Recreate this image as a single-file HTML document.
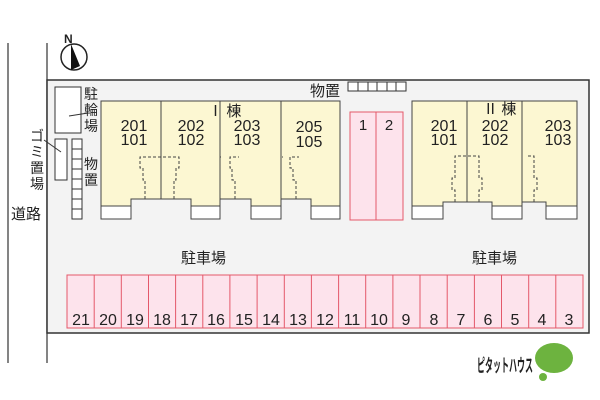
<!DOCTYPE html>
<html><head><meta charset="utf-8"><style>
html,body{margin:0;padding:0;background:#fff;}
svg{display:block;}
text{font-family:"Liberation Sans","Noto Sans CJK JP",sans-serif;fill:#222;}
.j{font-family:"Noto Sans CJK JP",sans-serif;}
</style></head><body>
<svg width="600" height="400" viewBox="0 0 600 400" xmlns="http://www.w3.org/2000/svg">
<line x1="8" y1="43" x2="8" y2="363" stroke="#333" stroke-width="1.2"/>
<line x1="47" y1="43" x2="47" y2="363" stroke="#333" stroke-width="1.2"/>
<rect x="47" y="80" width="542" height="253" fill="#f3f3f3" stroke="#333" stroke-width="1.5"/>
<!-- compass -->
<circle cx="74" cy="57" r="13" fill="#fff" stroke="#222" stroke-width="1.5"/>
<polygon points="71,44 71,70 80,66" fill="#111"/>
<text x="64" y="43" font-size="12" font-weight="bold">N</text>
<!-- bike -->
<rect x="55" y="87" width="26" height="46" fill="#fff" stroke="#333"/>
<line x1="69" y1="116" x2="88" y2="113" stroke="#333"/>
<text class="j" x="84" y="99" font-size="14">駐</text>
<text class="j" x="84" y="115" font-size="14">輪</text>
<text class="j" x="84" y="131" font-size="14">場</text>
<rect x="55" y="139" width="12" height="41" fill="#fff" stroke="#333"/>
<line x1="61" y1="152" x2="44" y2="140" stroke="#333"/>
<text class="j" x="30" y="141" font-size="14">ゴ</text>
<text class="j" x="30" y="157" font-size="14">ミ</text>
<text class="j" x="30" y="173" font-size="14">置</text>
<text class="j" x="30" y="189" font-size="14">場</text>
<g fill="#fff" stroke="#333">
<rect x="72" y="139" width="10" height="10"/><rect x="72" y="149" width="10" height="10"/><rect x="72" y="159" width="10" height="10"/><rect x="72" y="169" width="10" height="10"/><rect x="72" y="179" width="10" height="10"/><rect x="72" y="189" width="10" height="10"/><rect x="72" y="199" width="10" height="10"/><rect x="72" y="209" width="10" height="10"/>
</g>
<text class="j" x="84" y="169" font-size="14">物</text>
<text class="j" x="84" y="185" font-size="14">置</text>
<text class="j" x="11" y="219" font-size="15">道路</text>
<!-- top storage -->
<text class="j" x="310" y="96" font-size="15">物置</text>
<g fill="#fff" stroke="#333"><rect x="348" y="82" width="10" height="9"/><rect x="358" y="82" width="10" height="9"/><rect x="368" y="82" width="9" height="9"/><rect x="377" y="82" width="10" height="9"/><rect x="387" y="82" width="9" height="9"/><rect x="396" y="82" width="10" height="9"/></g>
<!-- Building I -->
<path d="M101,101 H340 V206 H311 V199 H281 V206 H251 V199 H220 V206 H191 V199 H131 V206 H101 Z" fill="#fcf7d2" stroke="#444"/>
<g stroke="#444"><line x1="161" y1="101" x2="161" y2="199"/><line x1="220" y1="101" x2="220" y2="199"/><line x1="281" y1="101" x2="281" y2="199"/></g>
<g fill="#fff" stroke="#444"><rect x="101" y="206" width="30" height="13"/><rect x="191" y="206" width="29" height="13"/><rect x="251" y="206" width="30" height="13"/><rect x="311" y="206" width="29" height="13"/></g>
<g fill="none" stroke="#444" stroke-dasharray="3,2">
<path d="M145,199 V180 H143 V168 H140 V157 H179 V168 H176 V180 H174 V199"/>
<path d="M235,199 V180 H232 V168 H230 V157 H239 M221,157 H220"/>
<path d="M296,199 V180 H293 V168 H290 V157 H299 M283,157 H282"/>
</g>
<g font-size="16" text-anchor="middle">
<text x="134" y="131">201</text><text x="134" y="145">101</text>
<text x="191" y="131">202</text><text x="191" y="145">102</text>
<text x="247" y="131">203</text><text x="247" y="145">103</text>
<text x="309" y="132">205</text><text x="309" y="147">105</text>
</g>
<text class="j" x="208" y="116" font-size="15">Ⅰ 棟</text>
<!-- parking 1 2 -->
<rect x="350" y="112" width="26" height="108" fill="#fde3ec" stroke="#e4586a"/>
<rect x="376" y="112" width="27" height="108" fill="#fde3ec" stroke="#e4586a"/>
<text x="363" y="130" font-size="15" text-anchor="middle">1</text>
<text x="389" y="130" font-size="15" text-anchor="middle">2</text>
<!-- Building II -->
<path d="M412,101 H577 V206 H546 V202 H522 V206 H492 V202 H443 V206 H412 Z" fill="#fcf7d2" stroke="#444"/>
<g stroke="#444"><line x1="467" y1="101" x2="467" y2="202"/><line x1="522" y1="101" x2="522" y2="202"/></g>
<g fill="#fff" stroke="#444"><rect x="412" y="206" width="31" height="13"/><rect x="492" y="206" width="30" height="13"/><rect x="546" y="206" width="31" height="13"/></g>
<g fill="none" stroke="#444" stroke-dasharray="3,2">
<path d="M455,202 V190 H452 V178 H455 V156 H479 V178 H482 V190 H479 V202"/>
<path d="M534,202 V190 H537 V178 H534 V156 H526"/>
</g>
<g font-size="16" text-anchor="middle">
<text x="444" y="131">201</text><text x="444" y="145">101</text>
<text x="495" y="131">202</text><text x="495" y="145">102</text>
<text x="558" y="131">203</text><text x="558" y="145">103</text>
</g>
<text class="j" x="483" y="114" font-size="15">Ⅱ 棟</text>
<text class="j" x="181" y="263" font-size="15">駐車場</text>
<text class="j" x="472" y="263" font-size="15">駐車場</text>
<!-- bottom parking -->
<rect x="67" y="275" width="516" height="53" fill="#fde3ec" stroke="#e4586a"/>
<g stroke="#e4586a">
<line x1="94.2" y1="275" x2="94.2" y2="328"/><line x1="121.3" y1="275" x2="121.3" y2="328"/><line x1="148.5" y1="275" x2="148.5" y2="328"/><line x1="175.6" y1="275" x2="175.6" y2="328"/><line x1="202.8" y1="275" x2="202.8" y2="328"/><line x1="229.9" y1="275" x2="229.9" y2="328"/><line x1="257.1" y1="275" x2="257.1" y2="328"/><line x1="284.3" y1="275" x2="284.3" y2="328"/><line x1="311.4" y1="275" x2="311.4" y2="328"/><line x1="338.6" y1="275" x2="338.6" y2="328"/><line x1="365.7" y1="275" x2="365.7" y2="328"/><line x1="392.9" y1="275" x2="392.9" y2="328"/><line x1="420" y1="275" x2="420" y2="328"/><line x1="447.2" y1="275" x2="447.2" y2="328"/><line x1="474.4" y1="275" x2="474.4" y2="328"/><line x1="501.5" y1="275" x2="501.5" y2="328"/><line x1="528.7" y1="275" x2="528.7" y2="328"/><line x1="555.8" y1="275" x2="555.8" y2="328"/>
</g>
<g font-size="16" text-anchor="middle">
<text x="81" y="325">21</text><text x="108" y="325">20</text><text x="135" y="325">19</text><text x="162" y="325">18</text><text x="189" y="325">17</text><text x="216" y="325">16</text><text x="244" y="325">15</text><text x="271" y="325">14</text><text x="298" y="325">13</text><text x="325" y="325">12</text><text x="352" y="325">11</text><text x="379" y="325">10</text><text x="406" y="325">9</text><text x="434" y="325">8</text><text x="461" y="325">7</text><text x="488" y="325">6</text><text x="515" y="325">5</text><text x="542" y="325">4</text><text x="569" y="325">3</text>
</g>
<!-- logo -->
<text class="j" x="477" y="372" font-size="18" font-weight="bold" textLength="56" lengthAdjust="spacingAndGlyphs">ピタットハウス</text>
<ellipse cx="554" cy="358" rx="19" ry="15" fill="#6db33f"/>
<circle cx="543" cy="377" r="4" fill="#6db33f"/>
</svg>
</body></html>
